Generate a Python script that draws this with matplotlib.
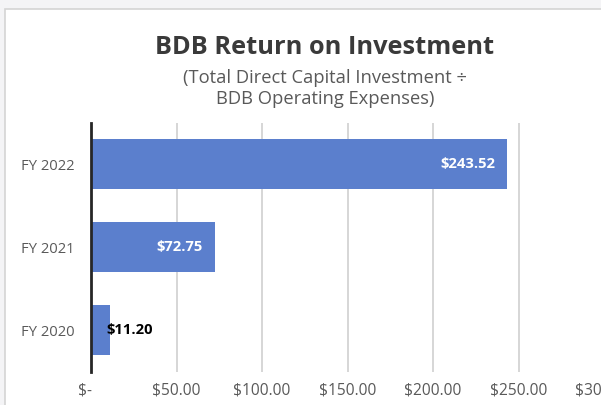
import numpy as np
import matplotlib.pyplot as plt
from matplotlib.patches import Rectangle
from matplotlib.transforms import ScaledTranslation

# chart data
years = ['FY 2020', 'FY 2021', 'FY 2022']
roi = [11.20, 72.75, 243.52]
xticks = [0, 50, 100, 150, 200, 250, 300]
xtick_labels = ['$-', '$50.00', '$100.00', '$150.00', '$200.00', '$250.00', '$300.00']

plt.rcParams['font.family'] = ['Open Sans', 'DejaVu Sans']

fig = plt.figure(figsize=(6.01, 4.05), dpi=100, facecolor='#f4f4f6')

# white chart area (the screenshot crops it at the right and bottom)
fig.patches.append(Rectangle((5 / 601, -0.05), 1.0, (405 - 9) / 405 + 0.05,
                             transform=fig.transFigure, facecolor='white',
                             edgecolor='#d4d4d4', linewidth=1.2, zorder=-10))

ax = fig.add_axes([91 / 601, 33.3 / 405, 513 / 601, 249 / 405])
ax.set_facecolor('none')

y = np.arange(len(years))
ax.barh(y, roi, height=0.6, color='#5b7fcd', zorder=3)

# value labels
for i, v in enumerate(roi):
    if v > 30:
        ax.annotate(f'${v:.2f}', xy=(v, i), xytext=(-9, 0), textcoords='offset points',
                    ha='right', va='center', color='white', fontweight='bold',
                    fontsize=10.6, zorder=4)
    else:
        ax.annotate(f'${v:.2f}', xy=(v, i), xytext=(-2.5, 0), textcoords='offset points',
                    ha='left', va='center', color='black', fontweight='bold',
                    fontsize=10.6, zorder=4)

ax.set_xlim(0, 300)
ax.set_ylim(-0.5, 2.5)
ax.set_xticks(xticks)
ax.set_xticklabels(xtick_labels)
ax.set_yticks(y)
ax.set_yticklabels(years)
ax.tick_params(axis='both', length=0, labelcolor='#595959')
ax.tick_params(axis='x', pad=8, labelsize=11.2)
ax.tick_params(axis='y', pad=12, labelsize=10.6)

# the "$-" label sits a little left of the axis line
lbl0 = ax.get_xticklabels()[0]
lbl0.set_transform(lbl0.get_transform() + ScaledTranslation(-6 / 100, 0, fig.dpi_scale_trans))

ax.grid(axis='x', color='#d0d0d0', linewidth=1.2, zorder=0)
for s in ['top', 'right', 'bottom']:
    ax.spines[s].set_visible(False)
ax.spines['left'].set_color('#262626')
ax.spines['left'].set_linewidth(2)
ax.spines['left'].set_zorder(5)

fig.text(325 / 601, 1 - 48 / 405, 'BDB Return on Investment', ha='center', va='center',
         fontsize=18.3, fontweight='bold', color='#3a3a3a')
fig.text(325 / 601, 1 - 78 / 405, '(Total Direct Capital Investment \u00f7', ha='center',
         va='center', fontsize=13.2, color='#595959')
fig.text(325 / 601, 1 - 99.5 / 405, 'BDB Operating Expenses)', ha='center', va='center',
         fontsize=13.2, color='#595959')

fig.savefig('out.png', dpi=100, facecolor=fig.get_facecolor())
